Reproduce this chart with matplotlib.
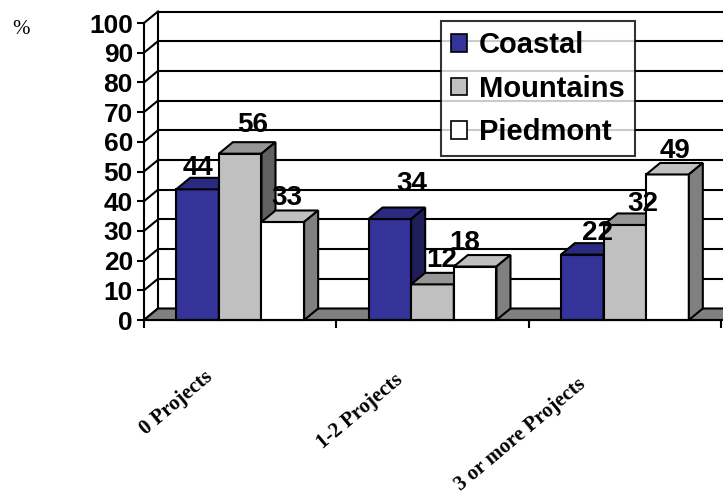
import matplotlib
matplotlib.use("Agg")
import matplotlib.pyplot as plt
from matplotlib.patches import Patch
from matplotlib.transforms import offset_copy

# ---- data ----
categories = ["0 Projects", "1-2 Projects", "3 or more Projects"]
series_names = ["Coastal", "Mountains", "Piedmont"]
coastal = [44, 34, 22]
mountains = [56, 12, 32]
piedmont = [33, 18, 49]
yticks = list(range(0, 101, 10))

values = [coastal, mountains, piedmont]

# face colours per series: front, top, side
front_colors = ["#333399", "#c0c0c0", "#ffffff"]
top_colors = ["#2a2a80", "#969696", "#c0c0c0"]
side_colors = ["#1e1e5a", "#606060", "#808080"]

# nudges for the value labels (pixels: dx, dy above the bar's back top edge)
label_nudges = [
    [(0, 3), (12, 10), (4, 5)],
    [(22, 17), (9, 6), (-10, 5)],
    [(15, 3), (18, 2), (8, 5)],
]
# anchor offsets of the slanted category labels (pixels from category centre)
cat_label_offsets = [(-30, -55), (-32, -58), (-42, -62)]

W_PX, H_PX = 723, 495
fig = plt.figure(figsize=(W_PX / 100, H_PX / 100), dpi=100)
ax = fig.add_axes([144 / W_PX, 175 / H_PX, 577 / W_PX, 297 / H_PX])
ax.set_xlim(0, 3)
ax.set_ylim(0, 100)

LW = 1.5
# depth of the pseudo-3D box in data units
DX = 14 / 577 * 3
DY = 11.5 / 297 * 100

# back wall gridlines and left wall slants
for v in yticks:
    ax.plot([DX, 3 + DX + 0.2], [v + DY, v + DY], color="black", lw=LW,
            clip_on=False, zorder=1, solid_capstyle="butt")
    ax.plot([0, DX], [v, v + DY], color="black", lw=LW, clip_on=False, zorder=1)
ax.plot([DX, DX], [DY, 100 + DY], color="black", lw=LW, clip_on=False, zorder=1)

# floor
ax.fill([0, 3 + 0.2, 3 + DX + 0.2, DX], [0, 0, DY, DY], facecolor="#808080",
        edgecolor="black", lw=LW, clip_on=False, zorder=2)

# bars, painted left to right so later front faces hide earlier side faces
w = 0.2218
k = 0
for i in range(len(categories)):
    for j in range(len(series_names)):
        v = values[j][i]
        xl = i + 0.5 - 1.5 * w + j * w
        xr = xl + w
        z = 3 + k * 0.1
        ax.bar(xl, v, width=w, align="edge", color=front_colors[j],
               edgecolor="black", lw=LW, zorder=z, clip_on=False)
        ax.fill([xl, xr, xr + DX, xl + DX], [v, v, v + DY, v + DY],
                facecolor=top_colors[j], edgecolor="black", lw=LW,
                zorder=z, clip_on=False)
        ax.fill([xr, xr + DX, xr + DX, xr], [0, DY, v + DY, v],
                facecolor=side_colors[j], edgecolor="black", lw=LW,
                zorder=z, clip_on=False)
        ndx, ndy = label_nudges[i][j]
        tr = offset_copy(ax.transData, fig=fig, x=ndx, y=ndy, units="dots")
        ax.text(xl + w / 2, v + DY, str(v), transform=tr, ha="center",
                va="baseline", fontsize=20, fontweight="bold",
                family="Liberation Sans", zorder=20, clip_on=False)
        k += 1

# axes frame
for s in ["top", "right"]:
    ax.spines[s].set_visible(False)
for s in ["left", "bottom"]:
    ax.spines[s].set_linewidth(LW)
    ax.spines[s].set_zorder(10)
ax.spines["bottom"].set_bounds(0, 3)

ax.set_yticks(yticks)
ax.set_yticklabels([str(t) for t in yticks], fontsize=19, fontweight="bold",
                   family="Liberation Sans")
ax.tick_params(axis="y", length=5, width=LW, pad=3)
ax.set_xticks([0, 1, 2, 3])
ax.set_xticklabels([])
ax.tick_params(axis="x", length=6, width=LW, direction="out")
ax.patch.set_visible(False)

# slanted category labels
for i, name in enumerate(categories):
    ox, oy = cat_label_offsets[i]
    tr = offset_copy(ax.transData, fig=fig, x=ox, y=oy, units="dots")
    ax.text(i + 0.5, 0, name, transform=tr, rotation=40, rotation_mode="anchor",
            ha="right", va="center", fontsize=15, fontweight="bold",
            family="Liberation Serif", clip_on=False)

# unit label
fig.text(21 / W_PX, 1 - 30 / H_PX, "%", ha="center", va="center", fontsize=15,
         family="Liberation Serif")

# legend
handles = [Patch(facecolor=front_colors[j], edgecolor="black", lw=1.2)
           for j in range(len(series_names))]
leg = ax.legend(handles, series_names, loc="upper left",
                bbox_to_anchor=(441 / W_PX, 1 - 21 / H_PX),
                bbox_transform=fig.transFigure, frameon=True, fancybox=False,
                handlelength=0.55, handleheight=0.55, handletextpad=0.4,
                borderpad=0.35, labelspacing=0.53, borderaxespad=0,
                prop={"family": "Liberation Sans", "weight": "bold", "size": 21})
leg.get_frame().set_edgecolor("black")
leg.get_frame().set_linewidth(LW)
leg.set_zorder(30)

fig.savefig("out.png", dpi=100)
